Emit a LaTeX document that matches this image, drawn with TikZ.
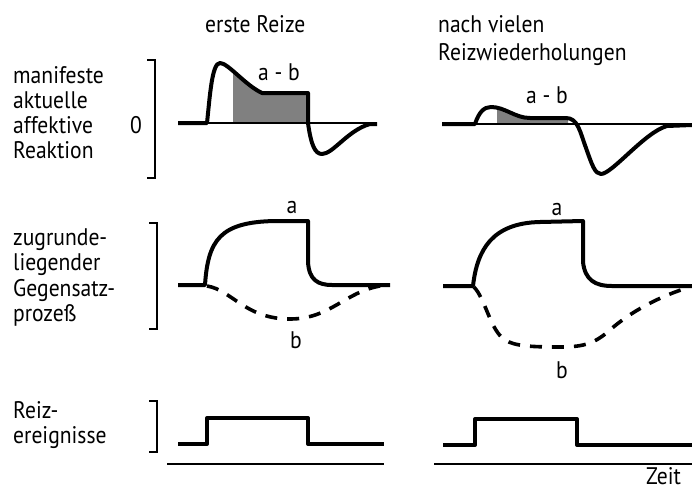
\documentclass[tikz,border=0pt]{standalone}
\usepackage{fontspec}
\setmainfont{PT Sans}[FakeStretch=0.9]
\begin{document}
\begin{tikzpicture}[x=1pt,y=-1pt,
  curve/.style={line width=4pt, line join=round},
  thinline/.style={line width=1.1pt},
  axisline/.style={line width=2pt},
  brk/.style={line width=1.6pt},
  dashcurve/.style={line width=3.6pt, dash pattern=on 12pt off 10pt},
  shadefill/.style={fill=black!50},
  lbl/.style={font=\fontsize{24}{25}\selectfont, inner sep=0pt, anchor=base west},
  clbl/.style={font=\fontsize{24}{25}\selectfont, inner sep=0pt, anchor=base}]
\useasboundingbox (0,0) rectangle (692,490);

% titles
\node[lbl] (t1) at (205,32) {erste Reize};
\node[lbl] (t2) at (438,32) {nach vielen};
\node[lbl] (t3) at (438,60) {Reizwiederholungen};

% left labels
\node[lbl] (l1) at (13,83) {manifeste};
\node[lbl] (l2) at (13,108) {aktuelle};
\node[lbl] (l3) at (13,133) {affektive};
\node[lbl] (l4) at (13,158) {Reaktion};
\node[clbl] (zero) at (136,133) {0};

\node[lbl] (m1) at (13,245) {zugrunde-};
\node[lbl] (m2) at (13,270) {liegender};
\node[lbl] (m3) at (13,296) {Gegensatz-};
\node[lbl] (m4) at (13,321) {prozeß};

\node[lbl] (b1) at (13,418) {Reiz-};
\node[lbl] (b2) at (13,443) {ereignisse};

% brackets
\draw[brk] (147,60) -- (155,60) -- (155,178) -- (147,178);
\draw[brk] (149,223) -- (157,223) -- (157,329) -- (149,329);
\draw[brk] (149,401) -- (157,401) -- (157,452) -- (149,452);

% ---------- top left ----------
\begin{scope}
\clip (233,40) rectangle (308,123);
\fill[shadefill] (207,123) .. controls (210,95) and (212,63) .. (220,63)
  .. controls (228,63) and (245,85) .. (262,93) -- (308,93) -- (308,123) -- cycle;
\end{scope}
\draw[thinline] (207,123) -- (377,123);
\draw[curve] (178,123) -- (207,123) .. controls (210,95) and (212,63) .. (220,63)
  .. controls (228,63) and (245,85) .. (262,93) -- (308,93) -- (308,123)
  .. controls (311,145) and (315,154) .. (322,154)
  .. controls (333,154) and (348,130) .. (370,124) -- (377,124);
\node[clbl] (ab1) at (279,80) {a - b};

% ---------- top right ----------
\begin{scope}
\clip (497,90) rectangle (568,124);
\fill[shadefill] (475,124) .. controls (479,112) and (484,107) .. (491,107)
  .. controls (505,107) and (515,118) .. (530,118) -- (568,118) -- (568,124) -- cycle;
\end{scope}
\draw[thinline] (475,124) -- (692,124);
\draw[curve] (442,124) -- (475,124) .. controls (479,112) and (484,107) .. (491,107)
  .. controls (505,107) and (515,118) .. (530,118) -- (566,118)
  .. controls (578,118) and (580,132) .. (586,148)
  .. controls (592,165) and (595,174) .. (601,174)
  .. controls (612,174) and (645,132) .. (667,126) -- (692,125);
\node[clbl] (ab2) at (547,103) {a - b};

% ---------- middle left ----------
\draw[curve] (178,285) -- (205,285) .. controls (208,240) and (220,222) .. (275,221)
  -- (308,221) -- (308,262) .. controls (309,280) and (318,285) .. (332,285) -- (390,285);
\draw[dashcurve] (207,286) .. controls (232,290) and (245,319) .. (290,319)
  .. controls (330,319) and (345,292) .. (380,286);
\node[clbl] (a1) at (292,213) {a};
\node[clbl] (bb1) at (296,348) {b};

% ---------- middle right ----------
\draw[curve] (443,286) -- (473,286) .. controls (477,250) and (492,223) .. (540,222)
  -- (583,221) -- (583,262) .. controls (585,280) and (595,286) .. (612,286) -- (692,286);
\draw[dashcurve] (474,287) .. controls (486,300) and (490,330) .. (505,340)
  .. controls (515,346) and (530,347) .. (560,347)
  .. controls (585,347) and (595,343) .. (610,330)
  .. controls (630,312) and (660,296) .. (690,287);
\node[clbl] (a2) at (557,215) {a};
\node[clbl] (bb2) at (562,378) {b};

% ---------- bottom ----------
\draw[curve] (178,444) -- (207,444) -- (207,418) -- (308,418) -- (308,444) -- (384,444);
\draw[curve] (443,445) -- (475,445) -- (475,419) -- (577,419) -- (577,445) -- (692,445);
\draw[axisline] (167,464) -- (384,464);
\draw[axisline] (434,464) -- (692,464);
\node[lbl] (zeit) at (646,484) {Zeit};
\end{tikzpicture}
\end{document}
